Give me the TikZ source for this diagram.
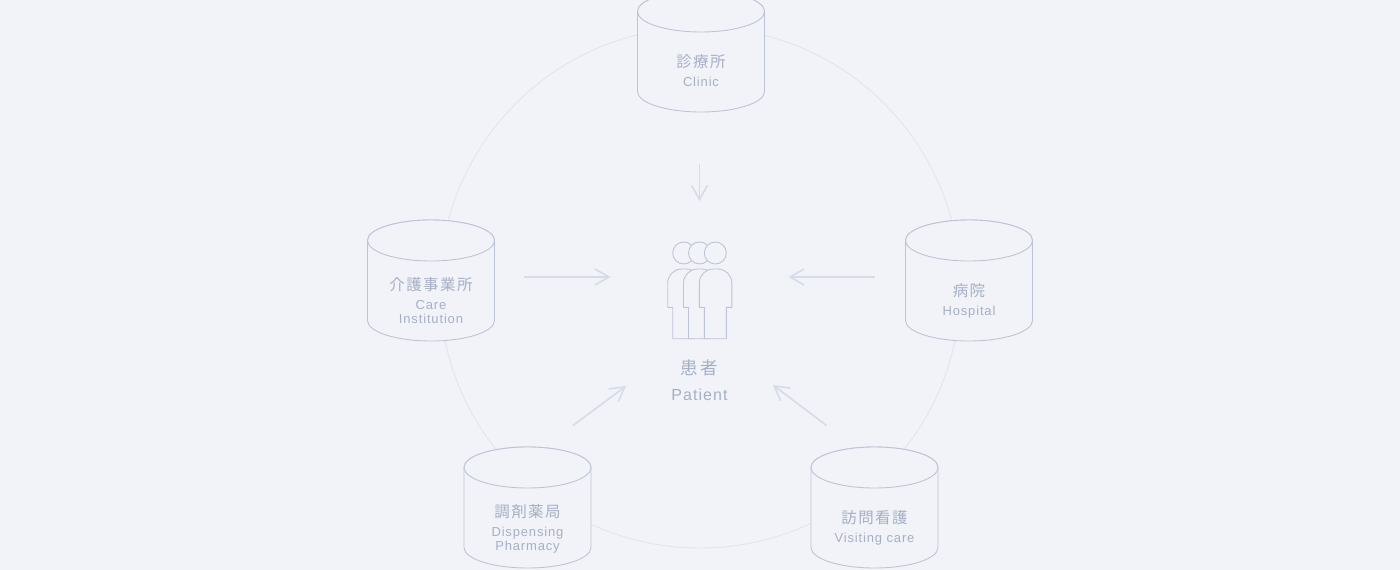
\documentclass[tikz,border=0pt]{standalone}
\usepackage{fontspec}
\usetikzlibrary{arrows.meta}
\newfontfamily\jpfont[LetterSpace=9]{Noto Sans CJK JP}
\newfontfamily\jplargefont[LetterSpace=12]{Noto Sans CJK JP}
\newfontfamily\enfont[LetterSpace=6.5]{Liberation Sans}
\definecolor{pagebg}{HTML}{F1F3F8}
\definecolor{ringc}{HTML}{E2E5EE}
\definecolor{linec}{HTML}{BEC4D8}
\definecolor{arrowc}{HTML}{D6DBE9}
\definecolor{textc}{HTML}{A6AFC6}
\tikzset{
  ring/.style={draw=ringc,line width=0.9pt},
  drum/.style={draw=linec,line width=0.9pt,fill=pagebg},
  flow/.style={draw=arrowc,line width=1.6pt,-{Straight Barb[length=14pt,width=16pt,line width=1.6pt]}},
  person/.style={draw=linec,line width=0.9pt,fill=pagebg,line join=round},
  jp/.style={anchor=base,inner sep=0pt,text=textc,font=\fontsize{15.5}{15.5}\selectfont\jpfont},
  jpbig/.style={anchor=base,inner sep=0pt,text=textc,font=\fontsize{17.5}{17.5}\selectfont\jplargefont},
  en/.style={anchor=base,inner sep=0pt,text=textc,font=\fontsize{13}{13}\selectfont\enfont},
  enbig/.style={anchor=base,inner sep=0pt,text=textc,font=\fontsize{16}{16}\selectfont\enfont}
}
\newcommand{\drumat}[2]{% centre x, centre y of the top ellipse
  \path[drum] (#1-63.5,#2) -- (#1-63.5,#2+80) arc[start angle=180,end angle=360,x radius=63.5,y radius=-20.5] -- (#1+63.5,#2) arc[start angle=0,end angle=180,x radius=63.5,y radius=-20.5] -- cycle;
  \path[drum] (#1,#2) ellipse[x radius=63.5,y radius=20.5];
}
\newcommand{\headat}[1]{% left edge x of the figure
  \path[person] (#1+16,253) circle[radius=11];
}
\newcommand{\bodyat}[1]{%
  \path[person] (#1+5,338.7) -- (#1+5,307.3) -- (#1,307.3) -- (#1,283) arc[start angle=180,end angle=270,radius=14] -- (#1+18.5,269) arc[start angle=270,end angle=360,radius=14] -- (#1+32.5,307.3) -- (#1+27,307.3) -- (#1+27,338.7) -- cycle;
}
\begin{document}
\begin{tikzpicture}[x=1pt,y=-1pt]
\useasboundingbox (0,0) rectangle (1400,570);
\fill[pagebg] (0,0) rectangle (1400,570);
\clip (0,0) rectangle (1400,570);
\draw[ring] (700,287.6) circle[radius=260.4];
\drumat{701}{11.5}
\drumat{431}{240.5}
\drumat{969}{240.5}
\drumat{527.5}{467.5}
\drumat{874.5}{467.5}
\headat{667.7}\headat{683.5}\headat{699.3}
\bodyat{667.7}\bodyat{683.5}\bodyat{699.3}
\node[jp] (clinicjp) at (701,67) {診療所};
\node[en] (clinicen) at (701,86) {Clinic};
\node[jp] (carejp) at (431,290) {介護事業所};
\node[en] (careen) at (431,309) {Care};
\node[en] (careen2) at (431,323) {Institution};
\node[jp] (hospjp) at (969,296.5) {病院};
\node[en] (hospen) at (969,315) {Hospital};
\node[jp] (pharmjp) at (527.5,517) {調剤薬局};
\node[en] (pharmen) at (527.5,536) {Dispensing};
\node[en] (pharmen2) at (527.5,550) {Pharmacy};
\node[jp] (visitjp) at (874.5,523.5) {訪問看護};
\node[en] (visiten) at (874.5,542) {Visiting care};
\node[jpbig] (patientjp) at (699.5,374) {患者};
\node[enbig] (patienten) at (699.5,400) {Patient};
\coordinate (a1) at (699.5,164); \coordinate (b1) at (699.5,201);
\coordinate (a2) at (524,277); \coordinate (b2) at (610.5,277);
\coordinate (a3) at (874.5,277); \coordinate (b3) at (788.5,277);
\coordinate (a4) at (572.7,425.7); \coordinate (b4) at (626,386);
\coordinate (a5) at (826.5,425.5); \coordinate (b5) at (773,385);
\draw[flow] (a1) -- (b1);
\draw[flow] (a2) -- (b2);
\draw[flow] (a3) -- (b3);
\draw[flow] (a4) -- (b4);
\draw[flow] (a5) -- (b5);
\end{tikzpicture}
\end{document}
